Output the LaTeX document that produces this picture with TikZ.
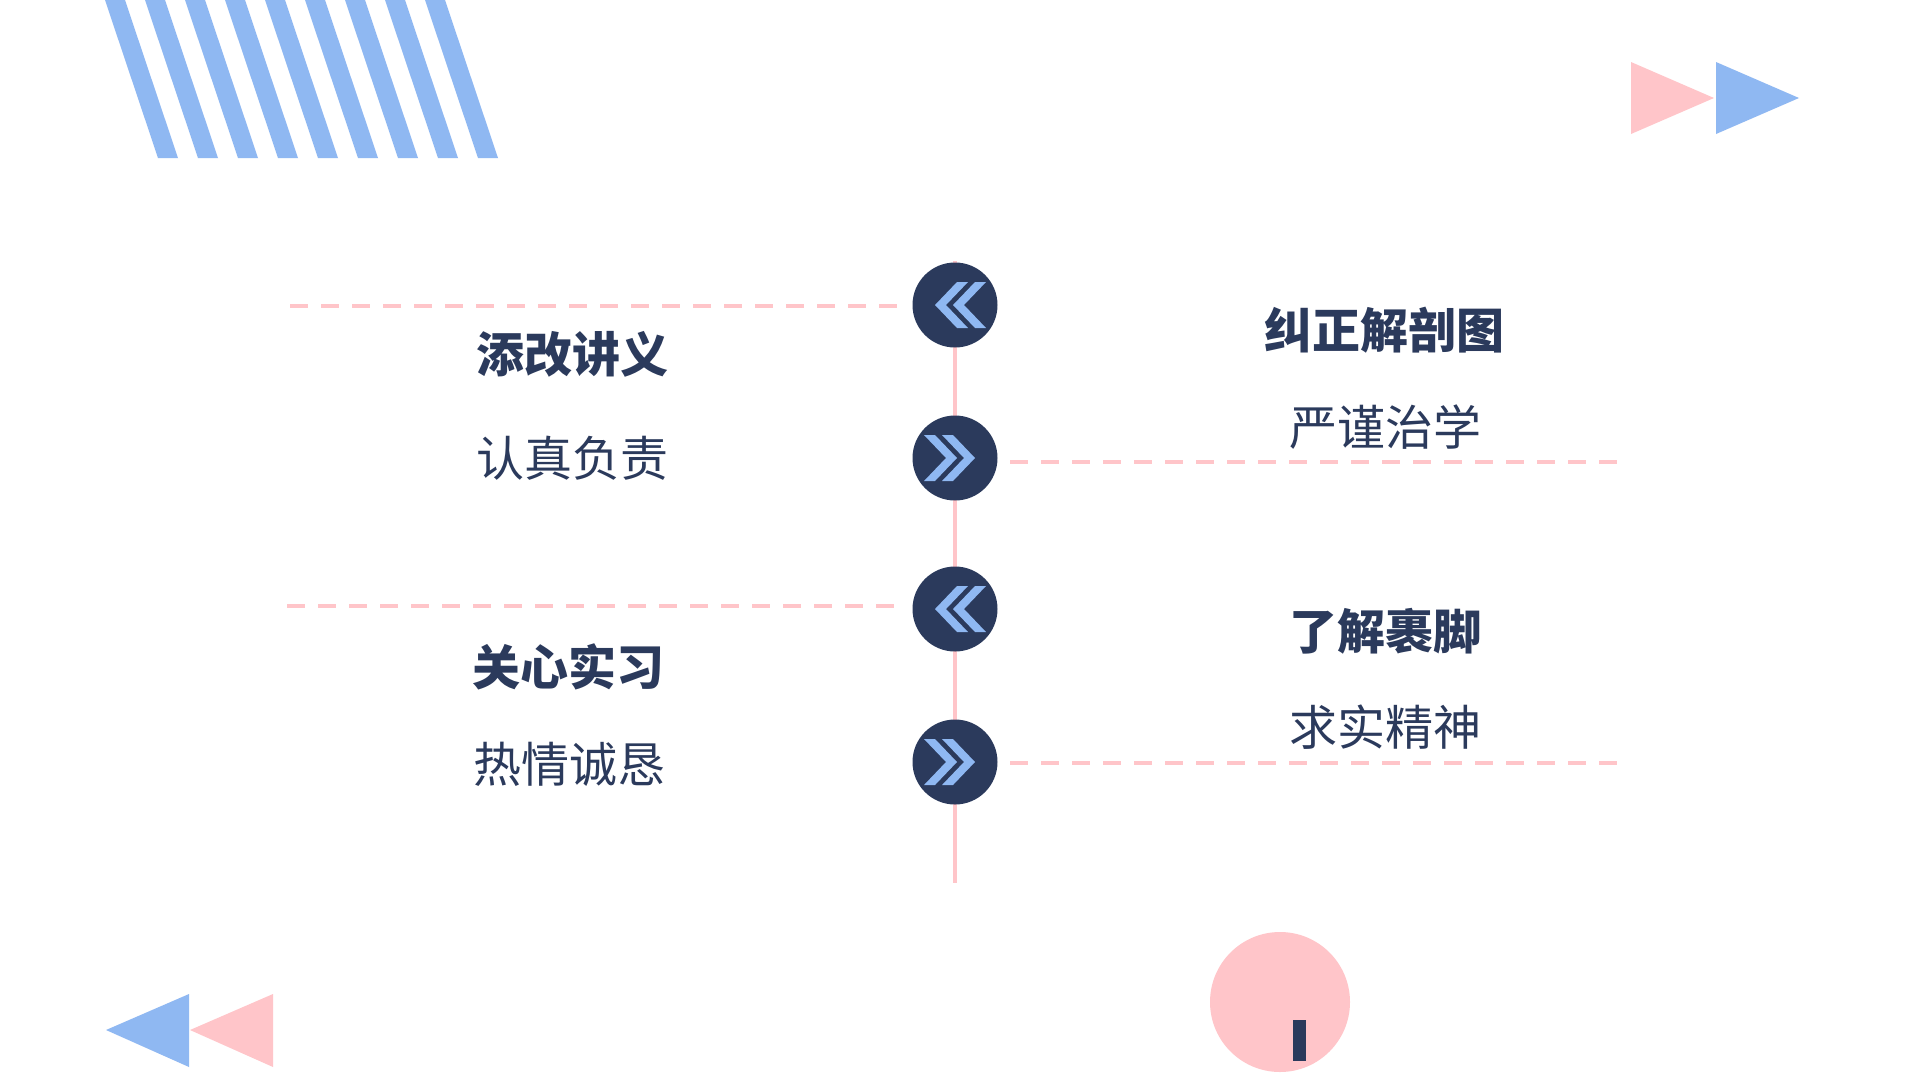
\documentclass[tikz,border=0pt]{standalone}
\usepackage{fontspec}
\newfontfamily\cjk{Noto Sans CJK SC}
\definecolor{navy}{HTML}{2B3A5C}
\definecolor{sky}{HTML}{8FB8F2}
\definecolor{rose}{HTML}{FFC5C9}
\tikzset{
  hub/.style={circle,fill=navy,minimum size=85pt,inner sep=0pt},
  spine/.style={rose,line width=4pt},
  guide/.style={rose,line width=4pt,dash pattern=on 18pt off 13pt},
  headtxt/.style={text=navy,font=\cjk\bfseries\fontsize{48pt}{56pt}\selectfont,inner sep=0pt},
  subtxt/.style={text=navy,font=\cjk\fontsize{48pt}{56pt}\selectfont,inner sep=0pt},
  chev/.style={fill=sky}
}
\newcommand{\chevL}[2]{% tip x, center y
  \fill[chev] (#1,#2) -- (#1+22,#2-23) -- (#1+33,#2-23) -- (#1+11,#2) -- (#1+33,#2+23) -- (#1+22,#2+23) -- cycle;}
\newcommand{\chevR}[2]{% tip x, center y
  \fill[chev] (#1,#2) -- (#1-22,#2-23) -- (#1-33,#2-23) -- (#1-11,#2) -- (#1-33,#2+23) -- (#1-22,#2+23) -- cycle;}
\begin{document}
\begin{tikzpicture}[x=1pt,y=-1pt]
\useasboundingbox (0,0) rectangle (1920,1080);
\fill[white] (0,0) rectangle (1920,1080);

% stripes
\foreach \i in {0,...,8} {
  \fill[sky] (105+40*\i,0) -- (125+40*\i,0) -- (178+40*\i,158) -- (158+40*\i,158) -- cycle;
}

% top right triangles
\fill[rose] (1631,62) -- (1714,98) -- (1631,134) -- cycle;
\fill[sky] (1716,62) -- (1799,98) -- (1716,134) -- cycle;

% bottom left triangles
\fill[sky] (189,994) -- (106,1030) -- (189,1067) -- cycle;
\fill[rose] (273,994) -- (190,1030) -- (273,1067) -- cycle;

% bottom circle
\fill[rose] (1280,1002) circle (70pt);
\fill[navy] (1293,1020) rectangle (1306,1061);

% spine
\coordinate (top) at (955,261);
\coordinate (bot) at (955,883);
\draw[spine] (top) -- (bot);

% guides
\coordinate (g1a) at (290,306); \coordinate (g1b) at (906,306);
\coordinate (g2a) at (1010,462); \coordinate (g2b) at (1624,462);
\coordinate (g3a) at (287,606); \coordinate (g3b) at (906,606);
\coordinate (g4a) at (1010,763); \coordinate (g4b) at (1624,763);
\draw[guide] (g1a) -- (g1b);
\draw[guide] (g2a) -- (g2b);
\draw[guide] (g3a) -- (g3b);
\draw[guide] (g4a) -- (g4b);

% hubs
\node[hub] (h1) at (955,305) {};
\node[hub] (h2) at (955,458) {};
\node[hub] (h3) at (955,609) {};
\node[hub] (h4) at (955,762) {};
\chevL{935}{305}\chevL{953}{305}
\chevR{957}{458}\chevR{975}{458}
\chevL{935}{609}\chevL{953}{609}
\chevR{957}{762}\chevR{975}{762}

% texts
\node[headtxt] (t1) at (572,354) {添改讲义};
\node[subtxt] (s1) at (572,458) {认真负责};
\node[headtxt] (t2) at (1384,330) {纠正解剖图};
\node[subtxt] (s2) at (1385,427) {严谨治学};
\node[headtxt] (t3) at (568,667) {关心实习};
\node[subtxt] (s3) at (569,764) {热情诚恳};
\node[headtxt] (t4) at (1385,631) {了解裹脚};
\node[subtxt] (s4) at (1385,727) {求实精神};
\end{tikzpicture}
\end{document}
